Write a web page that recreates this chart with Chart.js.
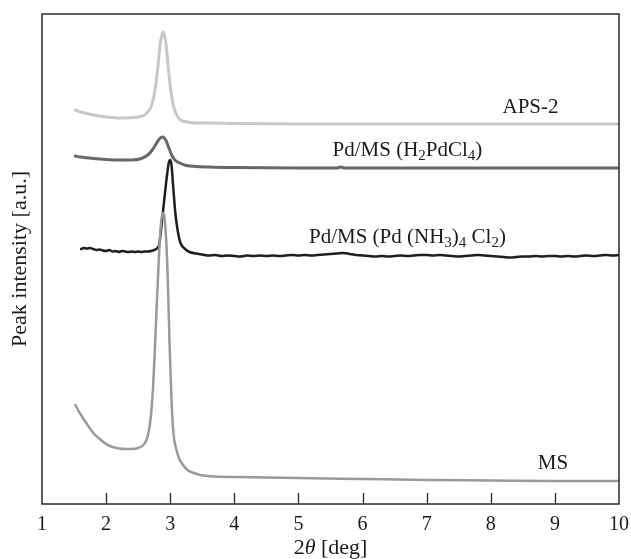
<!DOCTYPE html>
<html>
<head>
<meta charset="utf-8">
<script src="https://cdn.jsdelivr.net/npm/chart.js@4.4.1/dist/chart.umd.min.js"></script>
<style>
  html, body { margin: 0; padding: 0; background: #fff; }
  #wrap { width: 631px; height: 559px; }
</style>
</head>
<body>
<div id="wrap"><canvas id="chartXrd" width="631" height="559"></canvas></div>
<script>
'use strict';

/* ── DATA (2θ in deg, intensity in arbitrary units) ───────────────── */
var apsX = [1.52, 1.6, 1.7, 1.8, 1.9, 2.0, 2.1, 2.2, 2.3, 2.4, 2.5, 2.6, 2.65, 2.7, 2.74, 2.78, 2.81, 2.84, 2.87, 2.89,
            2.91, 2.94, 2.97, 3.0, 3.04, 3.08, 3.12, 3.16, 3.22, 3.3, 3.45, 3.63, 4.0, 5.0, 6.0, 7.0, 8.0, 9.0, 10.0];
var apsY = [394, 392, 390.5, 389, 388, 387, 386.5, 386, 386, 386.5, 387, 389, 392, 397, 406, 422, 439, 458, 469, 472,
            469, 457, 436, 418, 401, 392, 387, 384, 382.5, 381.5, 381, 381, 380.5, 380, 380, 380, 380, 380, 380];

var h2pdX = [1.52, 1.6, 1.8, 2.0, 2.2, 2.4, 2.55, 2.65, 2.72, 2.78, 2.83, 2.88, 2.93, 2.98, 3.03, 3.08, 3.15, 3.25,
             3.4, 3.6, 4.0, 5.0, 5.6, 5.66, 5.72, 6.5, 7.5, 8.5, 10.0];
var h2pdY = [348, 347, 345.5, 344.5, 344, 344, 345.5, 349, 354, 360, 365, 367, 364, 356, 348, 343.5, 341, 338.5,
             337.5, 337, 336.5, 336, 336, 337, 336, 336, 336, 336, 336];

var amX = [1.61, 1.65, 1.7, 1.75, 1.8, 1.85, 1.9, 1.95, 2.0, 2.05, 2.1, 2.15, 2.2, 2.25, 2.3, 2.35, 2.4, 2.45, 2.5,
           2.55, 2.6, 2.65, 2.7, 2.75, 2.8, 2.83, 2.86, 2.89, 2.92, 2.95, 2.98, 3.0, 3.02, 3.05, 3.08, 3.12, 3.16,
           3.2, 3.25, 3.3, 3.4, 3.5, 3.6, 3.7, 3.8, 3.9, 4.0, 4.1, 4.2, 4.3, 4.4, 4.5, 4.6, 4.7, 4.8, 4.9, 5.0,
           5.1, 5.2, 5.3, 5.4, 5.5, 5.6, 5.7, 5.8, 5.9, 6.0, 6.1, 6.2, 6.3, 6.4, 6.5, 6.6, 6.7, 6.8, 6.9, 7.0,
           7.1, 7.2, 7.3, 7.4, 7.5, 7.6, 7.7, 7.8, 7.9, 8.0, 8.1, 8.2, 8.3, 8.4, 8.5, 8.6, 8.7, 8.8, 8.9, 9.0,
           9.1, 9.2, 9.3, 9.4, 9.5, 9.6, 9.7, 9.8, 9.9, 10.0];
var amY = [255, 256, 255.5, 256, 255, 254, 254.5, 253.5, 253, 254, 252.5, 253, 252, 253, 252.5, 252, 252.5, 252, 252.5,
           252, 252.5, 252.5, 253, 254, 256, 260, 276, 294, 312, 329, 342, 344, 339, 314, 291, 272, 261,
           257, 254, 252, 250.5, 249.5, 248.5, 249, 248, 248.5, 248, 247.5, 248.5, 248, 248.5, 248, 248.5, 248, 248.5, 249, 248.5,
           249, 248.5, 249, 249.5, 250, 250.5, 251, 250, 249, 248.5, 248, 247.5, 248, 247.5, 248, 248.5, 248, 248.5, 249, 249,
           248.5, 249, 248.5, 248, 247.5, 248, 248.5, 249, 248.5, 248, 247.5, 247, 246.5, 247, 247.5, 247.5, 248, 247.5, 248, 248,
           247.5, 248, 247.5, 248, 248.5, 248, 248.5, 249, 248.5, 249];

var msX = [1.52, 1.6, 1.7, 1.8, 1.9, 2.0, 2.1, 2.2, 2.3, 2.4, 2.5, 2.58, 2.63, 2.67, 2.7, 2.73, 2.76, 2.79, 2.82, 2.85,
           2.88, 2.9, 2.93, 2.96, 2.99, 3.02, 3.05, 3.09, 3.13, 3.2, 3.27, 3.37, 3.47, 3.7, 4.1, 5.0, 6.0, 7.0, 8.0, 9.0, 10.0];
var msY = [99, 90, 80, 71, 65, 60, 57, 55.5, 55, 55, 56, 59, 64, 74, 89, 114, 154, 199, 242, 276,
           291, 290, 272, 229, 159, 104, 71, 56, 47, 39, 34, 31, 29, 27.5, 27, 26, 25, 24, 23.5, 23, 23];

var xTicks = [1, 2, 3, 4, 5, 6, 7, 8, 9, 10];

/* curve labels: [text, subscript?] runs, placed in data coordinates */
var curveLabels = [
  { x: 8.62, y: 397, runs: [['APS-2', 0]] },
  { x: 6.70, y: 354, runs: [['Pd/MS (H', 0], ['2', 1], ['PdCl', 0], ['4', 1], [')', 0]] },
  { x: 6.70, y: 267, runs: [['Pd/MS (Pd (NH', 0], ['3', 1], [')', 0], ['4', 1], [' Cl', 0], ['2', 1], [')', 0]] },
  { x: 8.97, y: 41,  runs: [['MS', 0]] }
];

var SERIF = '"Liberation Serif", "Times New Roman", serif';

function pts(xs, ys) {
  return xs.map(function(x, i) { return { x: x, y: ys[i] }; });
}

/* ── DECORATION PLUGIN: box, inward ticks, titles, curve labels ─── */
var decorPlugin = {
  id: 'decor',
  afterDraw: function(chart) {
    var ctx = chart.ctx;
    var a = chart.chartArea;
    var xs = chart.scales.x;

    ctx.save();
    ctx.strokeStyle = '#2a2a2a';
    ctx.lineWidth = 1.5;
    ctx.strokeRect(a.left, a.top, a.right - a.left, a.bottom - a.top);

    /* inward ticks on the bottom axis */
    ctx.lineWidth = 1.3;
    ctx.beginPath();
    xTicks.forEach(function(t) {
      if (t === xTicks[0] || t === xTicks[xTicks.length - 1]) return;
      var px = Math.round(xs.getPixelForValue(t)) + 0.5;
      ctx.moveTo(px, a.bottom);
      ctx.lineTo(px, a.bottom - 11);
    });
    ctx.stroke();

    ctx.fillStyle = '#1a1a1a';
    ctx.textBaseline = 'middle';

    /* y title */
    ctx.save();
    ctx.translate(20, (a.top + a.bottom) / 2);
    ctx.rotate(-Math.PI / 2);
    ctx.textAlign = 'center';
    ctx.font = '22px ' + SERIF;
    ctx.fillText('Peak intensity [a.u.]', 0, 0);
    ctx.restore();

    /* x title: 2θ [deg] with italic theta */
    var parts = [['2', '22px ' + SERIF], ['\u03B8', 'italic 22px ' + SERIF], [' [deg]', '22px ' + SERIF]];
    var total = 0;
    parts.forEach(function(p) { ctx.font = p[1]; total += ctx.measureText(p[0]).width; });
    var cx = (a.left + a.right) / 2 - total / 2;
    ctx.textAlign = 'left';
    parts.forEach(function(p) {
      ctx.font = p[1];
      ctx.fillText(p[0], cx, 548);
      cx += ctx.measureText(p[0]).width;
    });

    /* curve labels with subscripts */
    curveLabels.forEach(function(lb) {
      var w = 0;
      lb.runs.forEach(function(r) {
        ctx.font = (r[1] ? '15px ' : '21px ') + SERIF;
        w += ctx.measureText(r[0]).width;
      });
      var px = xs.getPixelForValue(lb.x) - w / 2;
      var py = chart.scales.y.getPixelForValue(lb.y);
      lb.runs.forEach(function(r) {
        ctx.font = (r[1] ? '15px ' : '21px ') + SERIF;
        ctx.fillText(r[0], px, r[1] ? py + 6 : py);
        px += ctx.measureText(r[0]).width;
      });
    });
    ctx.restore();
  }
};

/* ── CHART ─────────────────────────────────────────────────────── */
var chartXrd = new Chart(document.getElementById('chartXrd'), {
  type: 'line',
  data: {
    datasets: [
      { label: 'MS', data: pts(msX, msY), borderColor: '#9a9a9a', borderWidth: 2.5, order: 0 },
      { label: 'Pd/MS (Pd(NH3)4Cl2)', data: pts(amX, amY), borderColor: '#1e1e1e', borderWidth: 2.5, tension: 0, order: 1 },
      { label: 'Pd/MS (H2PdCl4)', data: pts(h2pdX, h2pdY), borderColor: '#686868', borderWidth: 3, order: 2 },
      { label: 'APS-2', data: pts(apsX, apsY), borderColor: '#c8c8c8', borderWidth: 3, order: 3 }
    ]
  },
  options: {
    responsive: false,
    animation: false,
    parsing: false,
    layout: { padding: { top: 14, right: 12, left: 0, bottom: 0 } },
    elements: {
      point: { radius: 0 },
      line: { cubicInterpolationMode: 'monotone', borderJoinStyle: 'round', borderCapStyle: 'round' }
    },
    scales: {
      x: {
        type: 'linear', min: 1, max: 10,
        grid: { display: false, drawTicks: false },
        border: { display: false },
        afterFit: function(s) { s.height = 55; s.paddingLeft = 0; s.paddingRight = 0; },
        afterBuildTicks: function(s) { s.ticks = xTicks.map(function(v) { return { value: v }; }); },
        ticks: { padding: 9, color: '#1a1a1a', maxRotation: 0, font: { family: SERIF, size: 20 } }
      },
      y: {
        min: 0, max: 490,
        grid: { display: false, drawTicks: false },
        border: { display: false },
        ticks: { display: false },
        afterFit: function(s) { s.width = 42; }
      }
    },
    plugins: { legend: { display: false }, tooltip: { enabled: false } }
  },
  plugins: [decorPlugin]
});
</script>
</body>
</html>
